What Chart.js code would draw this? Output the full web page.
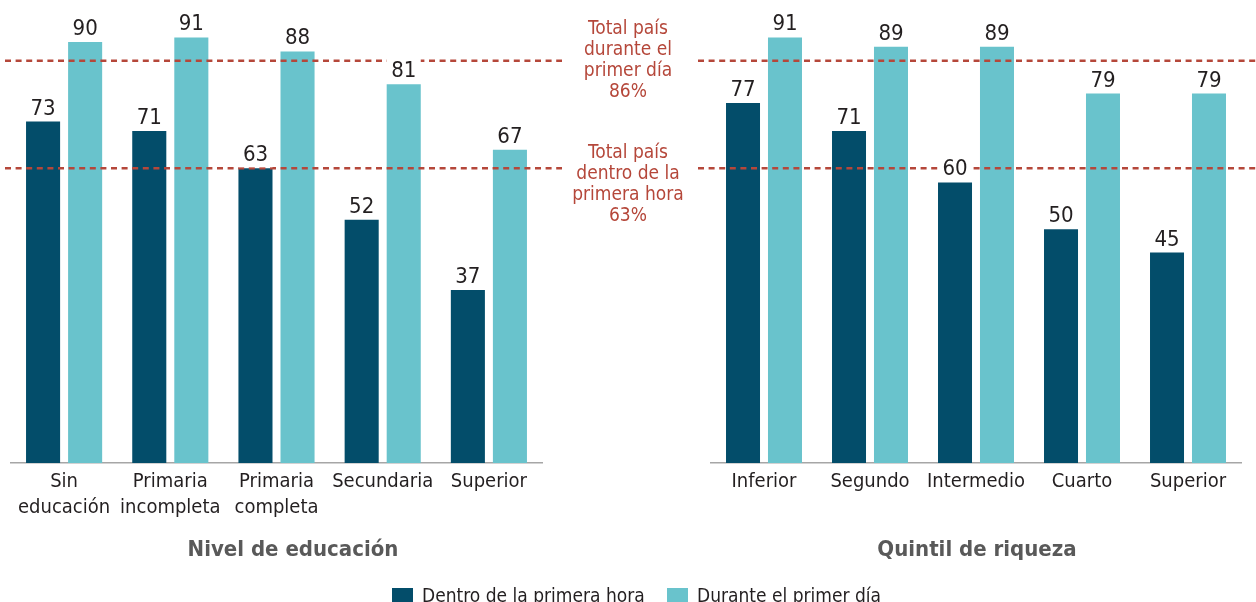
<!DOCTYPE html>
<html>
<head>
<meta charset="utf-8">
<script src="https://cdn.jsdelivr.net/npm/chart.js@4/dist/chart.umd.min.js"></script>
<style>
  html, body { margin: 0; padding: 0; background: #fff; }
  body { width: 1256px; height: 602px; position: relative; overflow: hidden;
         font-family: "Liberation Sans Narrow", "DejaVu Sans Condensed", "Roboto", sans-serif; }
  .panel { position: absolute; top: 0; height: 602px; }
  #panelA { left: 0; width: 600px; }
  #panelB { left: 640px; width: 616px; }
  .ref { position: absolute; left: 528px; width: 200px; text-align: center; color: #b5473a;
         font-size: 19px; line-height: 21px; }
  .legend { position: absolute; top: 584px; font-size: 19px; color: #231f20; line-height: 22px; }
  .legend span.box { display: inline-block; width: 21px; height: 21px; vertical-align: top; margin-right: 9px; margin-top: 4px; }
</style>
</head>
<body>
<div class="panel" id="panelA"><canvas id="chartA" width="600" height="602"></canvas></div>
<div class="panel" id="panelB"><canvas id="chartB" width="616" height="602"></canvas></div>
<div class="ref" id="refDay" style="top:17px">Total país<br>durante el<br>primer día<br>86%</div>
<div class="ref" id="refHour" style="top:141px">Total país<br>dentro de la<br>primera hora<br>63%</div>
<div class="legend" id="legendA" style="left:392px"></div>
<div class="legend" id="legendB" style="left:667px"></div>
<script>
// Categories
const educationLabels = [["Sin", "educación"], ["Primaria", "incompleta"], ["Primaria", "completa"], "Secundaria", "Superior"];
const wealthLabels = ["Inferior", "Segundo", "Intermedio", "Cuarto", "Superior"];

// Series (%)
const eduFirstHour = [73, 71, 63, 52, 37];
const eduFirstDay = [90, 91, 88, 81, 67];
const wealthFirstHour = [77, 71, 60, 50, 45];
const wealthFirstDay = [91, 89, 89, 79, 79];

// National reference values (%)
const nationalFirstDay = 86;
const nationalFirstHour = 63;

const seriesNames = ["Dentro de la primera hora", "Durante el primer día"];
const titles = ["Nivel de educación", "Quintil de riqueza"];

const DARK = "#034d6a";
const TEAL = "#69c3cc";
const RED = "#b5473a";
const FONT = '"Liberation Sans Narrow", "DejaVu Sans Condensed", Roboto, sans-serif';

// Legend
document.getElementById("legendA").innerHTML =
  '<span class="box" style="background:' + DARK + '"></span>' + seriesNames[0];
document.getElementById("legendB").innerHTML =
  '<span class="box" style="background:' + TEAL + '"></span>' + seriesNames[1];

// Reference lines, value labels and panel title
function overlayPlugin(lineFrom, lineTo, title, titleX) {
  return {
    id: "overlay",
    afterDatasetsDraw(chart) {
      const ctx = chart.ctx;
      const y = chart.scales.y;
      ctx.save();
      ctx.strokeStyle = RED;
      ctx.lineWidth = 2.5;
      ctx.setLineDash([6, 4.6]);
      [nationalFirstDay, nationalFirstHour].forEach(v => {
        const py = y.getPixelForValue(v);
        ctx.beginPath();
        ctx.moveTo(lineFrom, py);
        ctx.lineTo(lineTo, py);
        ctx.stroke();
      });
      ctx.setLineDash([]);
      // value labels on a white box
      ctx.font = "22px " + FONT;
      ctx.textAlign = "center";
      ctx.textBaseline = "alphabetic";
      chart.data.datasets.forEach((ds, di) => {
        chart.getDatasetMeta(di).data.forEach((bar, i) => {
          const w = bar.width;
          ctx.fillStyle = "#fff";
          ctx.fillRect(bar.x - w / 2, bar.y - 27, w, 26);
          ctx.fillStyle = "#231f20";
          ctx.fillText(String(ds.data[i]), bar.x, bar.y - 7);
        });
      });
      // panel title
      ctx.font = "bold 22px " + FONT;
      ctx.fillStyle = "#595959";
      ctx.textBaseline = "middle";
      ctx.fillText(title, titleX, 550);
      ctx.restore();
    }
  };
}

function makeChart(id, labels, hour, day, padL, padR, plugin) {
  return new Chart(document.getElementById(id), {
    type: "bar",
    data: {
      labels: labels,
      datasets: [
        { label: seriesNames[0], data: hour, backgroundColor: DARK },
        { label: seriesNames[1], data: day, backgroundColor: TEAL }
      ]
    },
    options: {
      responsive: false,
      animation: false,
      devicePixelRatio: 1,
      layout: { padding: { left: padL, right: padR, top: 0, bottom: 0 } },
      datasets: { bar: { categoryPercentage: 0.792, barPercentage: 0.81 } },
      plugins: { legend: { display: false }, tooltip: { enabled: false } },
      scales: {
        y: { display: false, min: 0, max: 99 },
        x: {
          grid: { display: false, drawTicks: false },
          border: { display: true, color: "#a6a6a6", width: 1.5 },
          ticks: { color: "#231f20", font: { family: FONT, size: 20, lineHeight: 1.3 }, padding: 6, maxRotation: 0, autoSkip: false },
          afterFit(scale) { scale.height = 139; }
        }
      }
    },
    plugins: [plugin]
  });
}

makeChart("chartA", educationLabels, eduFirstHour, eduFirstDay, 11, 58,
  overlayPlugin(5, 562, titles[0], 293));
makeChart("chartB", wealthLabels, wealthFirstHour, wealthFirstDay, 71, 15,
  overlayPlugin(58, 616, titles[1], 337));
</script>
</body>
</html>
